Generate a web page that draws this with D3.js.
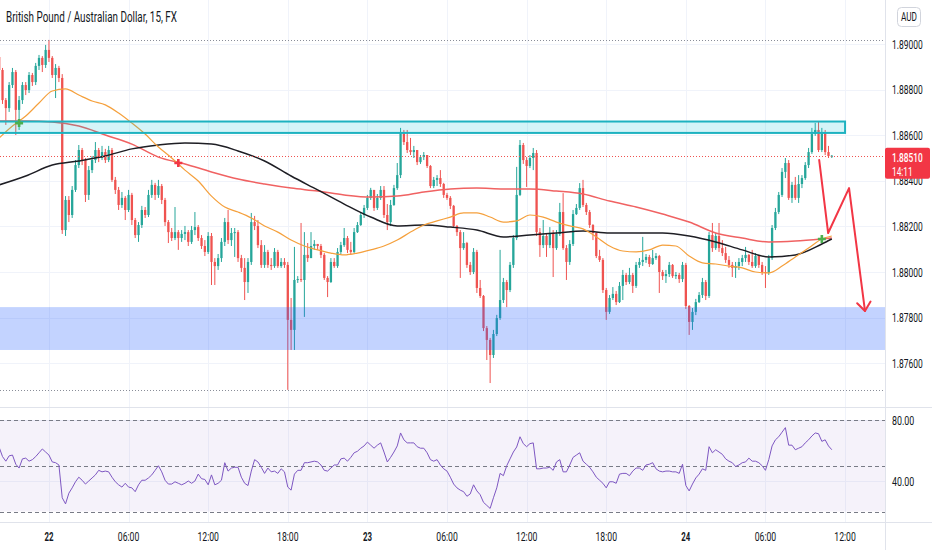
<!DOCTYPE html>
<html><head><meta charset="utf-8">
<script src="https://cdn.jsdelivr.net/npm/d3@7/dist/d3.min.js"></script>
<style>body{margin:0;background:#fff;overflow:hidden}svg{display:block;font-family:Roboto,"Liberation Sans",Arial,sans-serif}</style>
</head><body><svg id="c" width="932" height="550"></svg>
<script>
// ---------------- DATA ----------------
const title = "British Pound / Australian Dollar, 15, FX";
const currency = "AUD";
const countdown = "14:11";
// 15-minute bars, from 21st 20:15 to 24th 11:00 (252 bars)
const firstOpen = 1.88943;
const close = [1.88886,1.88754,1.88719,1.88820,1.88877,1.88711,1.88754,1.88820,1.88798,1.88864,
1.88833,1.88904,1.88939,1.88908,1.88974,1.88939,1.88864,1.88895,1.88851,1.88184,
1.88316,1.88250,1.88360,1.88469,1.88535,1.88491,1.88338,1.88447,1.88491,1.88535,
1.88500,1.88526,1.88491,1.88535,1.88404,1.88360,1.88294,1.88325,1.88272,1.88338,
1.88228,1.88162,1.88206,1.88272,1.88250,1.88338,1.88382,1.88338,1.88377,1.88316,
1.88219,1.88175,1.88149,1.88175,1.88149,1.88167,1.88175,1.88132,1.88184,1.88197,
1.88149,1.88114,1.88088,1.88158,1.88044,1.88026,1.88061,1.88132,1.88219,1.88140,
1.88171,1.88175,1.88061,1.88018,1.87956,1.88044,1.88219,1.88202,1.88118,1.88031,
1.88088,1.88031,1.88026,1.88088,1.88026,1.88044,1.88031,1.87790,1.87746,1.87965,
1.87969,1.87965,1.88075,1.88061,1.88114,1.88123,1.88114,1.88075,1.87974,1.87956,
1.88044,1.88026,1.88088,1.88118,1.88149,1.88097,1.88088,1.88175,1.88206,1.88250,
1.88281,1.88325,1.88360,1.88281,1.88325,1.88360,1.88250,1.88219,1.88294,1.88368,
1.88425,1.88614,1.88570,1.88535,1.88526,1.88535,1.88482,1.88504,1.88513,1.88465,
1.88377,1.88404,1.88412,1.88386,1.88338,1.88325,1.88290,1.88202,1.88175,1.88105,
1.88127,1.88031,1.88000,1.88088,1.87930,1.87895,1.87754,1.87702,1.87636,1.87728,
1.87798,1.87877,1.87956,1.87921,1.88031,1.88149,1.88338,1.88557,1.88491,1.88465,
1.88500,1.88522,1.88175,1.88118,1.88158,1.88118,1.88171,1.88105,1.88167,1.88263,
1.88105,1.88044,1.88123,1.88254,1.88281,1.88368,1.88294,1.88263,1.88206,1.88171,
1.88070,1.88053,1.87921,1.87825,1.87886,1.87904,1.87868,1.87939,1.87987,1.87956,
1.87987,1.87939,1.88031,1.88044,1.88053,1.88066,1.88035,1.88061,1.88070,1.88000,
1.87982,1.87991,1.88031,1.87982,1.87987,1.87969,1.88031,1.87851,1.87781,1.87825,
1.87868,1.87899,1.87956,1.87895,1.88162,1.88105,1.88158,1.88105,1.88083,1.88053,
1.88031,1.88018,1.88026,1.88044,1.88061,1.88075,1.88044,1.88026,1.88070,1.88031,
1.88000,1.87996,1.88061,1.88193,1.88263,1.88338,1.88439,1.88478,1.88325,1.88382,
1.88325,1.88386,1.88412,1.88469,1.88526,1.88605,1.88623,1.88535,1.88614,1.88526,
1.88509,1.88510];
const high = [1.88952,1.88895,1.88763,1.88833,1.88895,1.88886,1.88772,1.88833,1.88833,1.88877,
1.88873,1.88917,1.88952,1.88947,1.88996,1.89018,1.88947,1.88912,1.88904,1.88868,
1.88333,1.88333,1.88377,1.88491,1.88557,1.88544,1.88500,1.88465,1.88509,1.88570,
1.88544,1.88553,1.88540,1.88553,1.88544,1.88417,1.88373,1.88351,1.88333,1.88360,
1.88347,1.88237,1.88219,1.88290,1.88285,1.88360,1.88404,1.88391,1.88404,1.88386,
1.88325,1.88228,1.88193,1.88285,1.88184,1.88184,1.88202,1.88184,1.88202,1.88263,
1.88206,1.88162,1.88140,1.88175,1.88171,1.88061,1.88079,1.88149,1.88237,1.88272,
1.88193,1.88193,1.88184,1.88075,1.88061,1.88061,1.88259,1.88246,1.88228,1.88140,
1.88118,1.88097,1.88061,1.88105,1.88097,1.88061,1.88061,1.88044,1.87886,1.88110,
1.87982,1.88215,1.88175,1.88127,1.88175,1.88140,1.88123,1.88123,1.88083,1.87982,
1.88061,1.88061,1.88105,1.88132,1.88193,1.88158,1.88132,1.88193,1.88219,1.88263,
1.88294,1.88338,1.88369,1.88360,1.88342,1.88377,1.88377,1.88298,1.88316,1.88382,
1.88478,1.88632,1.88623,1.88623,1.88588,1.88553,1.88535,1.88513,1.88526,1.88513,
1.88469,1.88417,1.88425,1.88447,1.88391,1.88347,1.88333,1.88294,1.88206,1.88184,
1.88175,1.88132,1.88044,1.88105,1.88097,1.87965,1.87899,1.87763,1.87711,1.87746,
1.87812,1.88097,1.87974,1.87965,1.88044,1.88162,1.88461,1.88579,1.88566,1.88504,
1.88513,1.88544,1.88535,1.88193,1.88228,1.88167,1.88197,1.88184,1.88184,1.88303,
1.88346,1.88118,1.88140,1.88272,1.88298,1.88390,1.88404,1.88303,1.88272,1.88210,
1.88175,1.88097,1.88061,1.87930,1.87899,1.87934,1.87917,1.87956,1.88009,1.87996,
1.88018,1.87996,1.88044,1.88061,1.88154,1.88079,1.88075,1.88097,1.88083,1.88075,
1.88009,1.88009,1.88044,1.88035,1.88000,1.87996,1.88044,1.88040,1.87855,1.87842,
1.87882,1.87912,1.87974,1.87965,1.88175,1.88215,1.88171,1.88215,1.88140,1.88110,
1.88070,1.88044,1.88044,1.88061,1.88075,1.88110,1.88079,1.88097,1.88083,1.88075,
1.88044,1.88026,1.88075,1.88206,1.88281,1.88351,1.88456,1.88500,1.88491,1.88395,
1.88417,1.88425,1.88425,1.88482,1.88544,1.88632,1.88654,1.88658,1.88632,1.88623,
1.88553,1.88513];
const low = [1.88868,1.88737,1.88645,1.88702,1.88807,1.88601,1.88623,1.88737,1.88776,1.88785,
1.88816,1.88820,1.88886,1.88877,1.88895,1.88921,1.88851,1.88763,1.88833,1.88167,
1.88158,1.88219,1.88237,1.88351,1.88456,1.88469,1.88307,1.88316,1.88434,1.88478,
1.88482,1.88491,1.88478,1.88482,1.88395,1.88342,1.88272,1.88281,1.88228,1.88263,
1.88206,1.88149,1.88132,1.88193,1.88237,1.88241,1.88325,1.88316,1.88325,1.88298,
1.88202,1.88127,1.88136,1.88140,1.88097,1.88132,1.88140,1.88114,1.88123,1.88162,
1.88136,1.88101,1.88070,1.88079,1.87943,1.87943,1.88009,1.88044,1.88114,1.88123,
1.88114,1.88066,1.88044,1.88000,1.87877,1.87908,1.88031,1.88184,1.88105,1.88018,
1.88018,1.88018,1.88009,1.88018,1.88018,1.88018,1.88018,1.87483,1.87658,1.87658,
1.87952,1.87956,1.87803,1.88044,1.88061,1.88097,1.88097,1.88061,1.87965,1.87890,
1.87952,1.88018,1.88018,1.88079,1.88110,1.88083,1.88075,1.88083,1.88171,1.88202,
1.88237,1.88272,1.88316,1.88268,1.88272,1.88316,1.88237,1.88184,1.88202,1.88290,
1.88360,1.88412,1.88557,1.88522,1.88513,1.88500,1.88469,1.88474,1.88491,1.88456,
1.88368,1.88368,1.88377,1.88373,1.88325,1.88316,1.88276,1.88193,1.88158,1.87974,
1.88097,1.88018,1.87987,1.87991,1.87908,1.87886,1.87741,1.87614,1.87513,1.87623,
1.87719,1.87790,1.87864,1.87846,1.87912,1.88018,1.88140,1.88333,1.88474,1.88373,
1.88456,1.88447,1.88158,1.88066,1.88105,1.88066,1.88105,1.87978,1.88097,1.88158,
1.88097,1.87965,1.88031,1.88114,1.88250,1.88272,1.88285,1.88250,1.88193,1.88140,
1.88061,1.88044,1.87908,1.87790,1.87816,1.87877,1.87855,1.87864,1.87877,1.87943,
1.87947,1.87908,1.87930,1.88018,1.88026,1.88040,1.88022,1.88031,1.88053,1.87908,
1.87965,1.87952,1.87978,1.87974,1.87969,1.87952,1.87956,1.87838,1.87724,1.87746,
1.87811,1.87864,1.87886,1.87877,1.87886,1.88088,1.88097,1.88088,1.88070,1.88040,
1.88018,1.87978,1.87974,1.88009,1.88026,1.88044,1.88031,1.88018,1.88018,1.88018,
1.87987,1.87930,1.87987,1.88053,1.88184,1.88254,1.88329,1.88412,1.88316,1.88303,
1.88316,1.88303,1.88368,1.88404,1.88456,1.88518,1.88597,1.88526,1.88526,1.88513,
1.88500,1.88500];
// Moving averages (orange every 4th bar, black & red every 8th bar, plus last bar)
const fastMA = [1.88588,1.88640,1.88684,1.88741,1.88794,1.88803,1.88776,1.88750,1.88733,1.88697,
1.88653,1.88605,1.88548,1.88500,1.88447,1.88399,1.88333,1.88285,1.88263,1.88237,
1.88202,1.88175,1.88140,1.88114,1.88097,1.88083,1.88075,1.88083,1.88097,1.88114,
1.88140,1.88175,1.88206,1.88224,1.88241,1.88259,1.88259,1.88241,1.88219,1.88224,
1.88250,1.88241,1.88219,1.88202,1.88189,1.88154,1.88114,1.88092,1.88088,1.88097,
1.88118,1.88114,1.88070,1.88040,1.88035,1.88026,1.88018,1.88000,1.87996,1.88026,
1.88066,1.88105,1.88145,1.88158];
const midMA = [1.88382,1.88421,1.88469,1.88487,1.88509,1.88540,1.88557,1.88566,1.88561,1.88531,
1.88487,1.88421,1.88360,1.88298,1.88241,1.88202,1.88206,1.88197,1.88184,1.88154,
1.88162,1.88171,1.88180,1.88171,1.88171,1.88171,1.88158,1.88132,1.88097,1.88066,
1.88075,1.88123,1.88145];
const slowMA = [1.88662,1.88662,1.88658,1.88640,1.88601,1.88561,1.88504,1.88474,1.88439,1.88408,
1.88386,1.88368,1.88355,1.88338,1.88329,1.88333,1.88351,1.88364,1.88368,1.88364,
1.88364,1.88355,1.88342,1.88311,1.88285,1.88254,1.88219,1.88171,1.88149,1.88132,
1.88136,1.88145,1.88149];
const rsi = [62,56,53,56.5,57,51,48.5,54.5,55,53,
54,56,58.5,61,59,57,52.5,52,50.5,29,
25,32,35.5,39.5,42.5,40.5,38,40,42,44,
47,46,46.5,46,42.5,39.5,37.5,36,38.5,36,
35.5,33,37.5,40.5,40.5,42,44,47,50,46,
40.5,38,38,39.5,38.5,37.5,38.5,40,38.5,40,
44.5,41.5,41,37.5,44,37.5,38.5,40.5,52,46.5,
48.5,49,49,42.5,38.5,37,46.5,54,52.5,49,
45,48.5,46,46.5,45,48,46,36,34,44.5,
47,47,52,52,52.5,53,52.5,50.5,47,46.5,
48.5,50.5,50.5,54.5,55,53,55.5,58.5,59.5,61.5,
63,65.5,63.5,61.5,63.5,65,59,52.5,55.5,59,
63,71.5,67,65,65,65,62.5,61.5,61.5,58.5,
54,53,54,50.5,48,46.5,42.5,38,35.5,34,
33,30,31.5,37.5,33.5,31,26,24,22,29,
35.5,45,43.5,50,54.5,59,62.3,69,64.5,62.5,
64.5,65,48,48,48.5,48.5,49,47,52.5,54,
46,46,50.5,55.5,57,58.5,53,51,49,46,
42.5,40.5,38.5,35.5,39.5,39.5,38.5,44.5,45,45,
43.5,46.5,48.5,48.5,47,50.5,51,52,48,46.5,
46,46.5,46.5,46,46,45,51,37,33.5,38,
42,44.5,48,47,62.5,58.5,60.5,59,57.5,54.5,
53,52,49.5,50.5,52,52.5,55,53,53,52,
50,47,54,63,67,69,72,75,63.5,63.5,
60.5,61.5,62.5,65,67,69.5,71.5,71,66,67,
63,60.5];
const rsiBands = [80, 50, 20];
const rsiTicks = [80, 40];
const priceTicks = [1.876,1.878,1.880,1.882,1.884,1.886,1.888,1.890];
const timeTickBars = [15,39,63,87,111,135,159,183,207,231,255];
const timeTickLabels = ["22","06:00","12:00","18:00","23","06:00","12:00","18:00","24","06:00","12:00"];
const dayLabels = ["22","23","24"];
// drawings
const resistZone = {bars:[-20,255], prices:[1.88660,1.88610]};
const supportZone = {bars:[-20,300], prices:[1.87846,1.87658]};
const crossBars = [6,54,248];
const crossPrices = [1.88653,1.88478,1.88145];
const crossKinds = ["up","down","up"];
const arrowBars = [247.2,249.9,256.2,261.0];
const arrowPrices = [1.88491,1.88171,1.88368,1.87829];

// ---------------- LAYOUT ----------------
const W=932, H=550, AX=885, MAIN_B=407, RSI_T=408, RSI_B=522;
const UP="#26a69a", DN="#ef5350";
const svg=d3.select("#c");
svg.append("rect").attr("width",W).attr("height",H).attr("fill","#fff");
const x=d3.scaleLinear().domain([0,251]).range([-0.8,831.8]);
const y=d3.scaleLinear().domain([1.876,1.890]).range([363.2,44]);
const yr=d3.scaleLinear().domain([20,80]).range([511.5,420]);

const defs=svg.append("defs");
defs.append("clipPath").attr("id","cm").append("rect").attr("x",0).attr("y",0).attr("width",AX).attr("height",MAIN_B);
defs.append("clipPath").attr("id","cr").append("rect").attr("x",0).attr("y",RSI_T).attr("width",AX).attr("height",RSI_B-RSI_T);

// grid
const grid=svg.append("g").attr("stroke","#f0f3fa").attr("stroke-width",1);
timeTickBars.forEach(b=>{const xx=Math.round(x(b))+0.5;
  grid.append("line").attr("x1",xx).attr("x2",xx).attr("y1",0).attr("y2",RSI_B);});
priceTicks.forEach(p=>{const yy=Math.round(y(p))+0.5;
  grid.append("line").attr("x1",0).attr("x2",AX).attr("y1",yy).attr("y2",yy);});
rsiTicks.forEach(v=>{const yy=Math.round(yr(v))+0.5;
  grid.append("line").attr("x1",0).attr("x2",AX).attr("y1",yy).attr("y2",yy);});

// candles
const bars=close.map((c,i)=>({i,o:i===0?firstOpen:close[i-1],c,h:high[i],l:low[i]}));
const mg=svg.append("g").attr("clip-path","url(#cm)");
const cg=mg.append("g");
cg.selectAll("line").data(bars).join("line")
  .attr("x1",d=>x(d.i)).attr("x2",d=>x(d.i))
  .attr("y1",d=>y(d.h)).attr("y2",d=>y(d.l))
  .attr("stroke",d=>d.c>=d.o?UP:DN).attr("stroke-width",1);
cg.selectAll("rect").data(bars).join("rect")
  .attr("x",d=>x(d.i)-1.15).attr("width",2.3)
  .attr("y",d=>y(Math.max(d.o,d.c)))
  .attr("height",d=>Math.max(1,Math.abs(y(d.o)-y(d.c))))
  .attr("fill",d=>d.c>=d.o?UP:DN);

// moving averages
const fastBars=d3.range(0,249,4).concat([251]);
const slowBars=d3.range(0,249,8).concat([251]);
const ln=d3.line().curve(d3.curveMonotoneX);
mg.append("path").attr("d",ln(slowBars.map((b,i)=>[x(b),y(slowMA[i])])))
  .attr("fill","none").attr("stroke","#f06262").attr("stroke-width",1.5);
mg.append("path").attr("d",ln(slowBars.map((b,i)=>[x(b),y(midMA[i])])))
  .attr("fill","none").attr("stroke","#1e1e24").attr("stroke-width",1.5);
mg.append("path").attr("d",ln(fastBars.map((b,i)=>[x(b),y(fastMA[i])])))
  .attr("fill","none").attr("stroke","#f5a03c").attr("stroke-width",1.2);

// zones
mg.append("rect").attr("x",x(supportZone.bars[0])).attr("width",x(supportZone.bars[1])-x(supportZone.bars[0]))
  .attr("y",y(supportZone.prices[0])).attr("height",y(supportZone.prices[1])-y(supportZone.prices[0]))
  .attr("fill","rgba(41,98,255,0.28)");
mg.append("rect").attr("x",x(resistZone.bars[0])).attr("width",x(resistZone.bars[1])-x(resistZone.bars[0]))
  .attr("y",y(resistZone.prices[0])).attr("height",y(resistZone.prices[1])-y(resistZone.prices[0]))
  .attr("fill","rgba(0,188,212,0.17)").attr("stroke","#1eb2c0").attr("stroke-width",2);

// dotted lines: session high / low, last price
const hi=d3.max(high), lo=d3.min(low), last=close[close.length-1];
[[hi,"#8a8e99"],[lo,"#8a8e99"],[last,"#ef5350"]].forEach(([p,c])=>{
  const yy=Math.round(y(p))+0.5;
  mg.append("line").attr("x1",0).attr("x2",AX).attr("y1",yy).attr("y2",yy)
    .attr("stroke",c).attr("stroke-width",1).attr("stroke-dasharray","1,2");
});

// cross markers
crossBars.forEach((b,i)=>{
  mg.append("path").attr("transform",`translate(${x(b)},${y(crossPrices[i])})`)
    .attr("d","M-4,0H4M0,-4V4").attr("stroke",crossKinds[i]==="up"?"#4caf50":"#f23645")
    .attr("stroke-width",2.6).attr("fill","none");
});

// arrow
const ap=arrowBars.map((b,i)=>[x(b),y(arrowPrices[i])]);
const ag=svg.append("g").attr("stroke","#f23645").attr("stroke-width",2).attr("fill","none")
  .attr("stroke-linecap","round").attr("stroke-linejoin","round");
ag.append("path").attr("d",d3.line()(ap));
{
  const [x1,y1]=ap[ap.length-2],[x2,y2]=ap[ap.length-1];
  const ang=Math.atan2(y1-y2,x1-x2), L=11, sp=0.66;
  ag.append("path").attr("d",`M${x2+L*Math.cos(ang+sp)},${y2+L*Math.sin(ang+sp)}L${x2},${y2}L${x2+L*Math.cos(ang-sp)},${y2+L*Math.sin(ang-sp)}`);
}

// RSI pane
const rg=svg.append("g").attr("clip-path","url(#cr)");
rg.append("rect").attr("x",0).attr("width",AX).attr("y",yr(80)).attr("height",yr(20)-yr(80))
  .attr("fill","rgba(126,87,194,0.08)");
rsiBands.forEach(v=>{const yy=Math.round(yr(v))+0.5;
  rg.append("line").attr("x1",0).attr("x2",AX).attr("y1",yy).attr("y2",yy)
    .attr("stroke","#787b86").attr("stroke-width",1).attr("stroke-dasharray","4,3");});
rg.append("path").attr("d",d3.line()(rsi.map((v,i)=>[x(i),yr(v)])))
  .attr("fill","none").attr("stroke","#7e57c2").attr("stroke-width",1);

// separators
const sep=svg.append("g").attr("stroke","#e0e3eb").attr("stroke-width",1);
sep.append("line").attr("x1",0).attr("x2",W).attr("y1",MAIN_B+0.5).attr("y2",MAIN_B+0.5);
sep.append("line").attr("x1",0).attr("x2",W).attr("y1",RSI_B+0.5).attr("y2",RSI_B+0.5);
sep.append("line").attr("x1",AX+0.5).attr("x2",AX+0.5).attr("y1",0).attr("y2",H);

// text helper: narrow text drawn with a horizontal scale so that it spans `len` pixels
function txt(g,xx,yy,s,len,o={}){
  const t=g.append("text").attr("x",0).attr("y",0).attr("dy","0.36em").text(s)
    .attr("font-size",o.size||13).attr("fill",o.fill||"#131722")
    .attr("font-weight",o.weight||400).attr("text-anchor",o.anchor||"start");
  const w=t.node().getComputedTextLength()||len;
  t.attr("transform",`translate(${xx},${yy}) scale(${len/w},1)`);
  return t;
}
const tg=svg.append("g");
priceTicks.forEach(p=>txt(tg,892,y(p),d3.format(".5f")(p),30.7));
rsiTicks.forEach(v=>txt(tg,892,yr(v),d3.format(".2f")(v),22.3));
timeTickBars.forEach((b,i)=>{
  const isDay=dayLabels.includes(timeTickLabels[i]);
  txt(tg,x(b),536,timeTickLabels[i],isDay?9:21.5,{anchor:"middle",weight:isDay?700:400,size:isDay?13:12.5});
});
txt(tg,6,17,title,171,{size:14});

// currency box
tg.append("rect").attr("x",897.5).attr("y",7.5).attr("width",23).attr("height",19).attr("rx",4)
  .attr("fill","#fff").attr("stroke","#d1d4dc");
txt(tg,909,17,currency,16,{anchor:"middle",size:12});

// last price label
const ly=y(last);
tg.append("rect").attr("x",AX).attr("y",ly-8).attr("width",45).attr("height",31).attr("rx",2).attr("fill","#f23645");
txt(tg,892,ly+1.5,d3.format(".5f")(last),30.7,{fill:"#fff",weight:500});
txt(tg,892,ly+15.5,countdown,20.7,{fill:"#fff"});
</script></body></html>
